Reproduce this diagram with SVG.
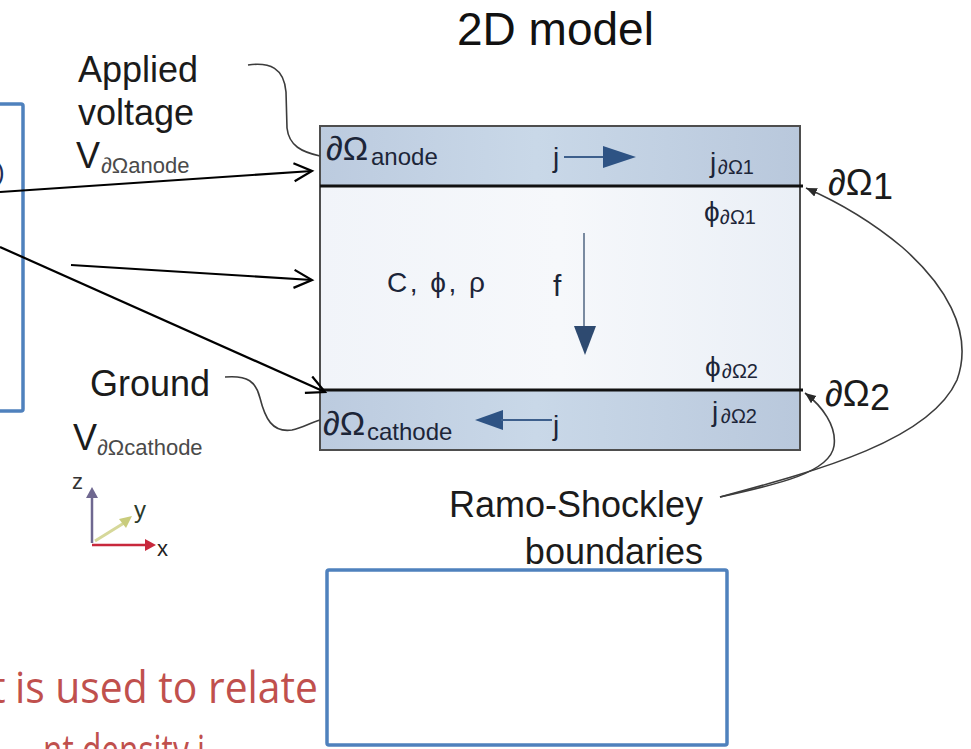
<svg xmlns="http://www.w3.org/2000/svg" width="971" height="749" viewBox="0 0 971 749">
  <style>
    text { font-family: "Liberation Sans", Arial, sans-serif; }
    .lbl { fill: #1b1b1b; font-size: 36px; }
    .sub { fill: #4a4a4a; font-size: 22px; }
    .in { fill: #1c2538; }
    .lead { fill: none; stroke: #3c3c3c; stroke-width: 1.6; }
    .link { fill: none; stroke: #000; stroke-width: 2.2; }
    .frame { fill: none; stroke: #4f81bd; stroke-width: 3.5; }
    .note { fill: #c0504d; font-family: "Open Sans", "Liberation Sans", sans-serif; font-size: 44px; }
  </style>
  <defs>
    <marker id="chev" markerUnits="userSpaceOnUse" markerWidth="22" markerHeight="22" refX="19" refY="10" orient="auto">
      <path d="M1,1 L19,10 L1,19" fill="none" stroke="#000" stroke-width="2.2"/>
    </marker>
    <marker id="tip" markerUnits="userSpaceOnUse" markerWidth="12" markerHeight="10" refX="11" refY="4.5" orient="auto">
      <path d="M0,0 L11,4.5 L0,9 z" fill="#2a2a2a"/>
    </marker>
    <linearGradient id="strip" x1="0" y1="0" x2="1" y2="0">
      <stop offset="0" stop-color="#bccbdf"/>
      <stop offset="0.45" stop-color="#c9d8e8"/>
      <stop offset="1" stop-color="#b9c8dc"/>
    </linearGradient>
    <linearGradient id="bulk" x1="0" y1="0" x2="1" y2="0">
      <stop offset="0" stop-color="#f1f4f9"/>
      <stop offset="0.5" stop-color="#f6f8fb"/>
      <stop offset="1" stop-color="#eaeff6"/>
    </linearGradient>
  </defs>

  <rect width="971" height="749" fill="#fff"/>

  <!-- left panel frame with clipped content -->
  <g id="left-frame">
    <rect class="frame" x="-6" y="104" width="29" height="307" rx="2"/>
    <text x="-4" y="181" font-size="26" fill="#1f2f5a">)</text>
  </g>

  <!-- title -->
  <g id="title">
    <text x="457" y="45" font-size="46" fill="#111">2D model</text>
  </g>

  <!-- 2D domain -->
  <g id="domain">
    <rect x="320" y="126" width="480" height="324" fill="url(#bulk)" stroke="#555" stroke-width="2"/>
    <rect x="321" y="127" width="478" height="59" fill="url(#strip)"/>
    <rect x="321" y="390" width="478" height="59" fill="url(#strip)"/>
    <rect x="320" y="126" width="480" height="324" fill="none" stroke="#4e4e4e" stroke-width="2"/>
    <line x1="320" y1="186" x2="803" y2="186" stroke="#111" stroke-width="3"/>
    <line x1="320" y1="390" x2="803" y2="390" stroke="#111" stroke-width="3"/>
  </g>

  <g id="anode">
    <text class="in" x="326" y="160" font-size="34">∂Ω</text>
    <text class="in" x="371" y="165" font-size="24">anode</text>
    <text class="in" x="553" y="167" font-size="28">j</text>
    <line x1="564" y1="157" x2="605" y2="157" stroke="#3d5f8c" stroke-width="2"/>
    <path d="M603,146 L636,157 L603,168 z" fill="#2e5384"/>
    <text class="in" x="710" y="172" font-size="28">j</text>
    <text class="in" x="718" y="174" font-size="20">∂Ω1</text>
  </g>

  <g id="bulk-vars">
    <text class="in" x="704" y="221" font-size="28">ϕ</text>
    <text class="in" x="720" y="224" font-size="20">∂Ω1</text>
    <text class="in" x="387" y="292" font-size="28" textLength="98" lengthAdjust="spacing">C, ϕ, ρ</text>
    <text class="in" x="553" y="296" font-size="30">f</text>
    <line x1="584" y1="233" x2="584" y2="330" stroke="#5a6e8a" stroke-width="1.6"/>
    <path d="M574,326 L596,326 L585,355 z" fill="#2e4a70"/>
    <text class="in" x="705" y="376" font-size="28">ϕ</text>
    <text class="in" x="722" y="378" font-size="20">∂Ω2</text>
  </g>

  <g id="cathode">
    <text class="in" x="323" y="435" font-size="34">∂Ω</text>
    <text class="in" x="367" y="440" font-size="24">cathode</text>
    <path d="M475,420 L503,410 L503,430 z" fill="#2e5384"/>
    <line x1="501" y1="420" x2="552" y2="420" stroke="#3d5f8c" stroke-width="2"/>
    <text class="in" x="553" y="435" font-size="28">j</text>
    <text class="in" x="712" y="421" font-size="28">j</text>
    <text class="in" x="721" y="423" font-size="20">∂Ω2</text>
  </g>

  <!-- boundary labels -->
  <g id="boundary-1">
    <text class="lbl" x="828" y="195" font-size="30">∂Ω</text>
    <text class="lbl" x="873" y="199" font-size="22">1</text>
  </g>
  <g id="boundary-2">
    <text class="lbl" x="825" y="406" font-size="30">∂Ω</text>
    <text class="lbl" x="870" y="410" font-size="22">2</text>
  </g>

  <g id="applied-voltage">
    <text class="lbl" x="78" y="82">Applied</text>
    <text class="lbl" x="78" y="125">voltage</text>
    <text class="lbl" x="76" y="168">V</text>
    <text class="sub" x="101" y="173">∂Ωanode</text>
  </g>

  <g id="ground">
    <text class="lbl" x="90" y="396">Ground</text>
    <text class="lbl" x="73" y="450">V</text>
    <text class="sub" x="97" y="455">∂Ωcathode</text>
  </g>

  <g id="ramo-shockley">
    <text class="lbl" x="703" y="517" text-anchor="end">Ramo-Shockley</text>
    <text class="lbl" x="703" y="564" text-anchor="end">boundaries</text>
  </g>

  <!-- coordinate axes -->
  <g id="axes">
    <line x1="92" y1="543" x2="92" y2="496" stroke="#6f6890" stroke-width="2.5"/>
    <path d="M86,498 L92,487 L98,498 z" fill="#6f6890"/>
    <line x1="95" y1="541" x2="124" y2="523" stroke="#d6d89a" stroke-width="3"/>
    <path d="M119,519 L132,516 L126,528 z" fill="#c9cc7c"/>
    <line x1="92" y1="545" x2="146" y2="545" stroke="#c8283c" stroke-width="2.5"/>
    <path d="M145,539 L156,545 L145,551 z" fill="#c8283c"/>
    <text x="72" y="489" font-size="22" fill="#333">z</text>
    <text x="134" y="518" font-size="24" fill="#2c3a2a">y</text>
    <text x="157" y="556" font-size="22" fill="#222">x</text>
  </g>

  <!-- lower frame -->
  <g id="lower-frame">
    <rect x="327" y="570" width="400" height="175" rx="2" fill="#fff" stroke="#4f81bd" stroke-width="3.5"/>
  </g>

  <g id="note">
    <text class="note" x="-10" y="703">t</text>
    <text class="note" x="15" y="703" textLength="303" lengthAdjust="spacingAndGlyphs">is used to relate</text>
    <text class="note" x="43" y="766" textLength="162" lengthAdjust="spacingAndGlyphs">nt density j</text>
  </g>

  <!-- connectors -->
  <g id="connectors">
    <line class="link" x1="0" y1="192" x2="312" y2="171" marker-end="url(#chev)"/>
    <line class="link" x1="71" y1="265" x2="312" y2="280" marker-end="url(#chev)"/>
    <line class="link" x1="0" y1="247" x2="325" y2="392" marker-end="url(#chev)"/>
    <path class="lead" d="M248,65 C270,62 284,68 286,92 L287,128 C289,146 302,152 320,156"/>
    <path class="lead" d="M225,377 C248,375 256,382 260,398 C265,418 272,433 292,430 C302,428 310,423 320,420"/>
    <path class="lead" d="M720,497 C820,470 930,440 957,380 C975,330 942,282 902,247 C872,222 838,202 806,188" marker-end="url(#tip)"/>
    <path class="lead" d="M720,497 C780,484 830,472 834,446 C837,426 822,406 805,393" marker-end="url(#tip)"/>
  </g>
</svg>
